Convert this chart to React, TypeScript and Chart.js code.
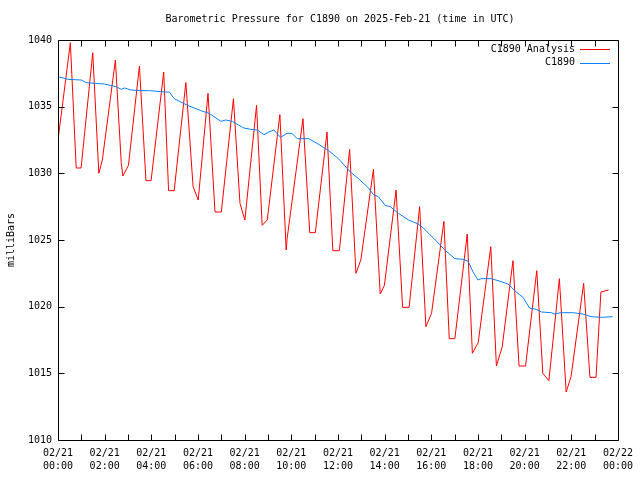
import React, { useEffect, useRef } from "react";
import { Chart, registerables } from "chart.js";

Chart.register(...registerables);

const TITLE = "Barometric Pressure for C1890 on 2025-Feb-21 (time in UTC)";
const Y_LABEL = "milliBars";
const SERIES_NAMES = ["C1890 Analysis", "C1890"];
const X_TICK_HOURS = [0, 2, 4, 6, 8, 10, 12, 14, 16, 18, 20, 22, 24];
const Y_TICKS = [1010, 1015, 1020, 1025, 1030, 1035, 1040];

// hours since 02/21 00:00 UTC
const ANALYSIS_T = [
  0.0, 0.53, 0.78, 0.99,
  1.49, 1.75, 1.9,
  2.46, 2.71, 2.78, 3.02,
  3.49, 3.77, 3.99,
  4.53, 4.74, 4.98,
  5.48, 5.79, 6.01,
  6.43, 6.73, 7.0,
  7.52, 7.8, 8.01,
  8.51, 8.75, 8.97,
  9.51, 9.78, 9.82,
  10.5, 10.79, 11.03,
  11.53, 11.78, 12.06,
  12.5, 12.77, 12.98,
  13.52, 13.81, 13.99,
  14.49, 14.77, 15.05,
  15.5, 15.77, 16.01,
  16.54, 16.77, 17.01,
  17.54, 17.76, 18.01,
  18.55, 18.79, 19.04,
  19.5, 19.76, 20.04,
  20.52, 20.78, 21.04,
  21.49, 21.78, 21.99,
  22.53, 22.8, 23.06,
  23.27, 23.6,
];
const ANALYSIS_V = [
  1032.5, 1039.8, 1030.4, 1030.4,
  1039.05, 1030.0, 1031.0,
  1038.5, 1030.8, 1029.8, 1030.6,
  1038.05, 1029.45, 1029.45,
  1037.6, 1028.7, 1028.7,
  1036.8, 1029.0, 1028.0,
  1036.0, 1027.1, 1027.1,
  1035.6, 1027.75, 1026.5,
  1035.1, 1026.1, 1026.5,
  1034.4, 1024.25, 1025.1,
  1034.1, 1025.55, 1025.55,
  1033.1, 1024.2, 1024.2,
  1031.8, 1022.5, 1023.5,
  1030.3, 1020.95, 1021.6,
  1028.75, 1019.95, 1019.95,
  1027.5, 1018.5, 1019.5,
  1026.4, 1017.6, 1017.6,
  1025.45, 1016.5, 1017.3,
  1024.5, 1015.55, 1017.0,
  1023.45, 1015.55, 1015.55,
  1022.7, 1015.0, 1014.45,
  1022.1, 1013.6, 1014.75,
  1021.75, 1014.7, 1014.7,
  1021.1, 1021.25,
];

const OBS_T = [
  0.0, 0.43, 1.0, 1.21, 1.99, 2.49, 2.71, 2.85, 3.13, 3.56, 3.92, 4.56, 4.77,
  4.98, 5.55, 6.12, 6.48, 6.98, 7.19, 7.47, 7.76, 7.97, 8.26, 8.54, 8.83, 9.04,
  9.25, 9.54, 9.82, 10.03, 10.25, 10.75, 11.1, 11.6, 11.81, 12.02, 12.53, 12.88,
  13.31, 13.52, 13.73, 14.02, 14.24, 14.59, 15.02, 15.44, 15.66, 15.94, 16.23,
  16.58, 17.01, 17.37, 17.58, 17.79, 18.0, 18.14, 18.57, 18.86, 19.29, 19.64,
  19.93, 20.21, 20.5, 20.72, 21.14, 21.28, 21.56, 22.06, 22.49, 22.84, 23.34,
  23.77,
];
const OBS_V = [
  1037.25, 1037.05, 1037.0, 1036.8, 1036.7, 1036.5, 1036.3, 1036.4, 1036.25,
  1036.2, 1036.2, 1036.1, 1036.1, 1035.6, 1035.1, 1034.7, 1034.5, 1033.9,
  1034.0, 1033.9, 1033.6, 1033.4, 1033.3, 1033.25, 1032.9, 1033.1, 1033.25,
  1032.7, 1033.0, 1033.0, 1032.6, 1032.6, 1032.25, 1031.7, 1031.4, 1031.1,
  1030.1, 1029.6, 1028.9, 1028.4, 1028.25, 1027.6, 1027.5, 1027.0, 1026.5,
  1026.2, 1025.9, 1025.4, 1024.9, 1024.25, 1023.6, 1023.55, 1023.4, 1022.6,
  1022.0, 1022.1, 1022.1, 1021.95, 1021.7, 1021.1, 1020.7, 1019.9, 1019.8,
  1019.6, 1019.55, 1019.45, 1019.55, 1019.55, 1019.45, 1019.25, 1019.2,
  1019.25,
];

const RED = "#ff0000";
const BLUE = "#0a80ff";
const FONT = "DejaVu Sans Mono";

function pad2(n: number) {
  return n < 10 ? "0" + n : "" + n;
}

const framePlugin = {
  id: "gnuframe",
  afterDraw(chart: any) {
    const { ctx, chartArea } = chart;
    const { left, right, top, bottom } = chartArea;
    const L = Math.round(left) + 0.5;
    const R = Math.round(right) + 0.5;
    const T = Math.round(top) + 0.5;
    const B = Math.round(bottom) + 0.5;
    ctx.save();
    ctx.strokeStyle = "#000";
    ctx.lineWidth = 1;
    ctx.beginPath();
    ctx.rect(L, T, R - L, B - T);
    const xs = chart.scales.x;
    for (let h = 1; h < 24; h++) {
      const px = Math.round(xs.getPixelForValue(h)) + 0.5;
      ctx.moveTo(px, B);
      ctx.lineTo(px, B - 6);
      ctx.moveTo(px, T);
      ctx.lineTo(px, T + 6);
    }
    const ys = chart.scales.y;
    for (const v of Y_TICKS) {
      const py = Math.round(ys.getPixelForValue(v)) + 0.5;
      ctx.moveTo(L, py);
      ctx.lineTo(L + 6, py);
      ctx.moveTo(R, py);
      ctx.lineTo(R - 6, py);
    }
    ctx.stroke();

    ctx.fillStyle = "#000";
    ctx.font = `10px "${FONT}"`;
    ctx.textBaseline = "middle";
    ctx.textAlign = "center";
    ctx.fillText(TITLE, 340, 19);

    ctx.save();
    ctx.translate(11, 240);
    ctx.rotate(-Math.PI / 2);
    ctx.fillText(Y_LABEL, 0, 0);
    ctx.restore();

    ctx.textAlign = "right";
    const legendColors = [RED, BLUE];
    SERIES_NAMES.forEach((name, i) => {
      const y = 49 + i * 13.5;
      ctx.fillStyle = "#000";
      ctx.fillText(name, 575, y);
      ctx.fillStyle = legendColors[i];
      ctx.fillRect(580, Math.round(y), 30, 1);
    });
    ctx.restore();
  },
};

export default function App() {
  const ref = useRef<HTMLCanvasElement | null>(null);
  useEffect(() => {
    if (!ref.current) return;
    const red = ANALYSIS_T.map((t, i) => ({ x: t, y: ANALYSIS_V[i] }));
    const blue = OBS_T.map((t, i) => ({ x: t, y: OBS_V[i] }));
    const chart = new Chart(ref.current, {
      type: "line",
      data: {
        datasets: [
          {
            label: SERIES_NAMES[0],
            data: red,
            borderColor: RED,
            borderWidth: 1,
            pointRadius: 0,
            tension: 0,
            order: 1,
          },
          {
            label: SERIES_NAMES[1],
            data: blue,
            borderColor: BLUE,
            borderWidth: 1,
            pointRadius: 0,
            tension: 0,
            order: 0,
          },
        ],
      },
      options: {
        responsive: false,
        animation: false,
        devicePixelRatio: 1,
        layout: { padding: { left: 8, right: 20, top: 40, bottom: 0 } },
        plugins: {
          legend: { display: false },
          tooltip: { enabled: false },
          title: { display: false },
        },
        scales: {
          x: {
            type: "linear",
            min: 0,
            max: 24,
            afterBuildTicks: (s: any) => {
              s.ticks = X_TICK_HOURS.map((v) => ({ value: v }));
            },
            afterFit: (s: any) => {
              s.height = 40;
            },
            grid: { display: false, drawTicks: false },
            border: { display: false },
            ticks: {
              autoSkip: false,
              maxRotation: 0,
              padding: 7,
              color: "#000",
              font: { family: FONT, size: 10, lineHeight: 1.3 },
              callback: (v: any) => {
                const h = Number(v);
                const day = h >= 24 ? "02/22" : "02/21";
                return [day, pad2(h % 24) + ":00"];
              },
            },
          },
          y: {
            type: "linear",
            min: 1010,
            max: 1040,
            afterBuildTicks: (s: any) => {
              s.ticks = Y_TICKS.map((v) => ({ value: v }));
            },
            afterFit: (s: any) => {
              s.width = 50;
            },
            grid: { display: false, drawTicks: false },
            border: { display: false },
            ticks: {
              padding: 6,
              color: "#000",
              font: { family: FONT, size: 10 },
              callback: (v: any) => String(v),
            },
          },
        },
      },
      plugins: [framePlugin],
    });
    return () => chart.destroy();
  }, []);
  return (
    <div style={{ position: "fixed", left: 0, top: 0, width: 640, height: 480, background: "#fff" }}>
      <canvas ref={ref} width={640} height={480} style={{ display: "block" }} />
    </div>
  );
}
